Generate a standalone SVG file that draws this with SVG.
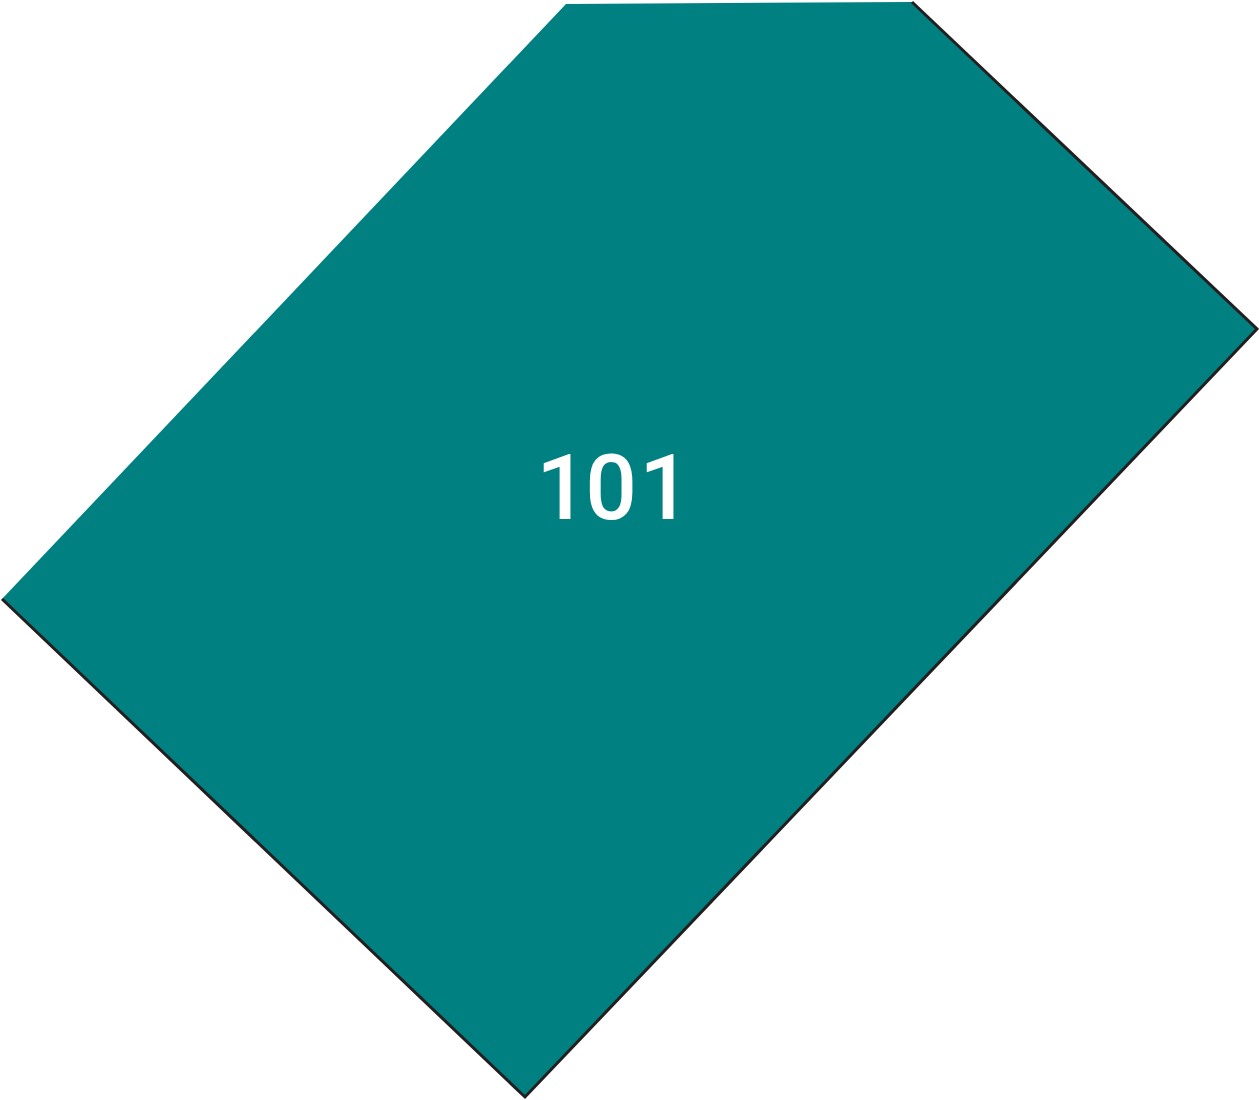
<svg xmlns="http://www.w3.org/2000/svg" width="1259" height="1100" viewBox="0 0 1259 1100">
<style>
.area{fill:#008080;stroke:none}
.edge{fill:none;stroke:#231f20;stroke-width:3;stroke-linejoin:miter}
.lbl{font-family:Roboto,"DejaVu Sans",sans-serif;font-size:91px;font-weight:500;fill:#ffffff;text-anchor:middle}
</style>
<rect width="1259" height="1100" fill="#ffffff"/>
<g id="room-101">
<polygon class="area" points="566,4 912,2 1257,329 525,1097 2,599"/>
<polyline class="edge" points="912,2 1257,329 525,1097 2,599"/>
<text class="lbl" y="519"><tspan x="562">1</tspan><tspan x="611">0</tspan><tspan x="665">1</tspan></text>
</g>
</svg>
